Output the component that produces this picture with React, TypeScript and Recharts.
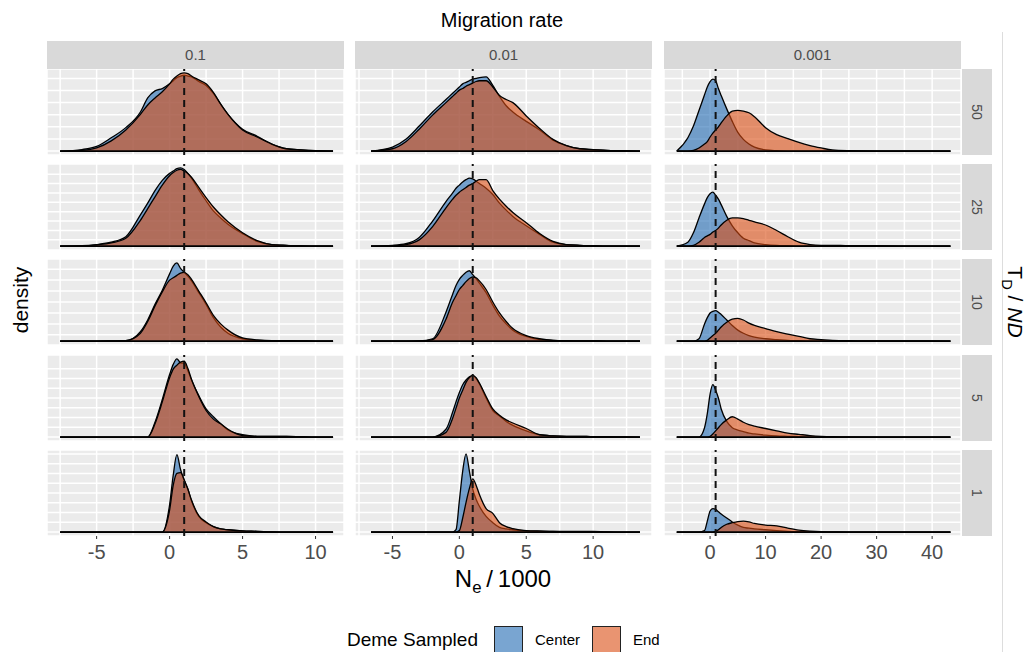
import { AreaChart, Area, XAxis, YAxis, CartesianGrid, ReferenceLine } from 'recharts'

const FONT = '"Liberation Sans", Arial, Helvetica, sans-serif'
const BLUE = '#2069B2'
const ORANGE = '#DA4D12'
const PANEL_W = 297
const PANEL_H = 86
const COL_X = [47, 355, 664]
const ROW_Y = [69, 164, 259, 355, 450]

const migrationRates = ['0.1', '0.01', '0.001']
const tdLabels = ['50', '25', '10', '5', '1']

// Ne/1000 sample points, one grid per migration-rate column
const neA = [-7.5, -6, -5, -4, -3, -2, -1.5, -1, -0.5, 0, 0.25, 0.5, 0.75, 1, 1.25, 1.5, 2, 2.5, 3, 3.5, 4, 5, 6, 7, 8, 9, 10, 11.2]
const neB = [-6.6, -5, -4, -3, -2, -1, -0.5, -0.25, 0, 0.25, 0.5, 0.75, 1, 1.25, 1.5, 2, 2.5, 3, 3.5, 4, 5, 6, 7, 8, 9, 10, 11, 12, 13.5]
const neC = [-6, -4, -3, -2, -1, -0.5, 0, 0.5, 1, 1.5, 2, 3, 4, 5, 6, 7, 8, 10, 12, 14, 16, 18, 20, 22, 25, 30, 35, 43.3]

const xDomains = [[-8.4, 11.95], [-7.8, 14.4], [-8.3, 45.2]]
const xMajor = [[-5, 0, 5, 10], [-5, 0, 5, 10], [0, 10, 20, 30, 40]]
const xMinor = [[-7.5, -2.5, 2.5, 7.5], [-7.5, -2.5, 2.5, 7.5, 12.5], [-5, 5, 15, 25, 35]]

// horizontal grid positions per T_D/ND row (density, scaled to row max)
const yGrid = [
  [0, 0.155, 0.31, 0.465, 0.62, 0.775, 0.93],
  [0.08, 0.2, 0.32, 0.44, 0.56, 0.68, 0.8, 0.92],
  [0.08, 0.22, 0.36, 0.5, 0.64, 0.78, 0.92],
  [0, 0.125, 0.25, 0.375, 0.5, 0.625, 0.75, 0.875],
  [0, 0.125, 0.25, 0.375, 0.5, 0.625, 0.75, 0.875, 1.0],
]

// T_D/ND = 50
const center50a = [0, .02, .06, .17, .30, .50, .68, .77, .80, .86, .90, .94, .96, .97, .96, .95, .89, .84, .74, .60, .47, .28, .19, .09, .03, .015, .005, 0]
const end50a = [0, .01, .04, .13, .27, .47, .59, .68, .76, .86, .92, .96, .99, 1.0, .99, .96, .91, .86, .75, .60, .47, .27, .18, .09, .03, .015, .005, 0]
const center50b = [0, .05, .15, .32, .5, .66, .74, .78, .82, .86, .88, .9, .92, .93, .94, .95, .84, .70, .58, .50, .38, .27, .14, .07, .03, .02, .01, .005, 0]
const end50b = [0, .03, .12, .28, .46, .62, .7, .74, .78, .8, .83, .85, .87, .89, .9, .9, .82, .71, .66, .62, .45, .29, .15, .07, .03, .02, .01, .005, 0]
const center50c = [0, .17, .32, .52, .72, .82, .89, .92, .9, .8, .71, .54, .38, .24, .15, .09, .05, .015, .005, 0, 0, 0, 0, 0, 0, 0, 0, 0]
const end50c = [0, 0, .01, .04, .09, .12, .18, .23, .27, .31, .36, .45, .51, .52, .51, .49, .44, .30, .21, .16, .11, .07, .04, .015, .005, 0, 0, 0]

// T_D/ND = 25
const center25a = [0, .005, .02, .05, .12, .40, .55, .71, .84, .93, .96, .99, 1.0, .98, .93, .87, .72, .58, .45, .36, .28, .16, .06, .02, .01, .005, 0, 0]
const end25a = [0, .003, .015, .04, .10, .33, .48, .63, .78, .90, .94, .97, .98, .96, .93, .88, .75, .62, .50, .40, .31, .17, .07, .02, .01, 0, 0, 0]
const center25b = [0, .01, .03, .11, .32, .57, .68, .74, .78, .82, .85, .87, .86, .83, .8, .74, .66, .55, .46, .38, .26, .15, .05, .02, .01, .005, 0, 0, 0]
const end25b = [0, .005, .02, .08, .25, .49, .6, .65, .69, .72, .75, .78, .8, .83, .85, .85, .71, .6, .51, .43, .3, .16, .06, .02, .01, .005, 0, 0, 0]
const center25c = [0, .05, .17, .36, .54, .62, .67, .69, .65, .6, .53, .38, .26, .17, .1, .07, .04, .02, .01, .005, 0, 0, 0, 0, 0, 0, 0, 0]
const end25c = [0, 0, .01, .05, .11, .13, .15, .18, .2, .23, .27, .33, .36, .36, .35, .33, .31, .27, .2, .12, .05, .02, .01, .01, .005, .005, 0, 0]

// T_D/ND = 10
const center10a = [0, 0, 0, .002, .005, .12, .27, .47, .65, .86, .96, 1.0, .93, .88, .83, .77, .62, .47, .3, .18, .1, .03, .01, .005, .005, .003, 0, 0]
const end10a = [0, 0, 0, .002, .005, .1, .25, .45, .63, .78, .81, .84, .87, .88, .85, .79, .64, .49, .33, .22, .14, .04, .015, .005, .005, .003, 0, 0]
const center10b = [0, 0, 0, .003, .03, .37, .6, .71, .79, .84, .88, .9, .85, .8, .74, .62, .46, .32, .22, .14, .06, .02, .01, .005, .003, .002, 0, 0, 0]
const end10b = [0, 0, 0, .002, .02, .28, .5, .58, .66, .71, .76, .8, .82, .81, .77, .66, .5, .36, .25, .16, .07, .03, .01, .005, .003, .002, 0, 0, 0]
const center10c = [0, 0, 0, .03, .22, .3, .36, .38, .39, .37, .34, .27, .2, .14, .1, .07, .05, .03, .02, .01, .005, 0, 0, 0, 0, 0, 0, 0]
const end10c = [0, 0, 0, 0, 0, .01, .04, .07, .1, .14, .18, .24, .28, .29, .27, .23, .2, .16, .12, .09, .06, .03, .02, .01, .005, .003, .002, 0]

// T_D/ND = 5
const center5a = [0, 0, 0, 0, 0, 0, 0, .19, .48, .8, .93, 1.0, .95, .94, .85, .73, .53, .36, .26, .17, .09, .03, .01, .01, .01, .005, 0, 0]
const end5a = [0, 0, 0, 0, 0, 0, 0, .17, .45, .76, .87, .92, .96, .97, .88, .74, .52, .34, .23, .17, .1, .02, .01, .01, .01, .005, 0, 0]
const center5b = [0, 0, 0, 0, 0, .1, .32, .45, .57, .67, .73, .77, .79, .75, .68, .5, .34, .27, .2, .15, .08, .03, .015, .01, .01, .005, .005, .003, 0]
const end5b = [0, 0, 0, 0, 0, .06, .24, .37, .5, .6, .7, .76, .79, .76, .69, .52, .36, .28, .22, .18, .11, .03, .015, .01, .01, .005, .005, .003, 0]
const center5c = [0, 0, 0, 0, .12, .3, .55, .67, .6, .5, .36, .2, .12, .09, .07, .05, .04, .025, .015, .01, .005, 0, 0, 0, 0, 0, 0, 0]
const end5c = [0, 0, 0, 0, 0, 0, .01, .04, .08, .12, .16, .22, .26, .23, .19, .16, .14, .11, .08, .05, .035, .02, .01, .005, .003, 0, 0, 0]

// T_D/ND = 1
const center1a = [0, 0, 0, 0, 0, 0, 0, 0, 0, .35, .73, .99, .8, .66, .55, .4, .2, .12, .07, .04, .03, .015, .01, .003, 0, 0, 0, 0]
const end1a = [0, 0, 0, 0, 0, 0, 0, 0, 0, .28, .6, .75, .76, .67, .55, .41, .21, .13, .07, .04, .03, .015, .01, .003, 0, 0, 0, 0]
const center1b = [0, 0, 0, 0, 0, 0, 0, .03, .4, .78, 1.0, .78, .55, .42, .33, .2, .12, .06, .04, .03, .015, .01, .008, .006, .005, .006, .002, 0, 0]
const end1b = [0, 0, 0, 0, 0, 0, 0, 0, .02, .18, .38, .56, .68, .6, .48, .3, .24, .12, .07, .045, .02, .015, .01, .01, .008, .01, .003, 0, 0]
const center1c = [0, 0, 0, 0, .02, .14, .27, .3, .29, .26, .23, .18, .13, .09, .06, .05, .04, .03, .02, .01, .005, .002, 0, 0, 0, 0, 0, 0]
const end1c = [0, 0, 0, 0, 0, 0, 0, 0, .01, .03, .06, .1, .12, .135, .14, .13, .11, .09, .08, .05, .025, .012, .005, .003, 0, 0, 0, 0]

const grids = [neA, neB, neC]
const panels = [
  [[center50a, end50a], [center50b, end50b], [center50c, end50c]],
  [[center25a, end25a], [center25b, end25b], [center25c, end25c]],
  [[center10a, end10a], [center10b, end10b], [center10c, end10c]],
  [[center5a, end5a], [center5b, end5b], [center5c, end5c]],
  [[center1a, end1a], [center1b, end1b], [center1c, end1c]],
]

const EmptyTick = () => <g />

function XTick({ x, y, payload, major }: { x: number; y: number; payload: { value: number }; major: number[] }) {
  if (!major.includes(payload.value)) return <g />
  return (
    <g>
      <line x1={x} x2={x} y1={y - 9} y2={y - 6} stroke="#333" strokeWidth={1} />
      <text x={x} y={y} dy="0.71em" textAnchor="middle" fontSize={20} fontFamily={FONT} fill="#4D4D4D">
        {payload.value}
      </text>
    </g>
  )
}

function Panel({ row, col }: { row: number; col: number }) {
  const xs = grids[col]
  const [center, end] = panels[row][col]
  const data = xs.map((x, i) => ({ x, center: center[i], end: end[i] }))
  const bottom = row === 4
  const major = xMajor[col]
  const ticks = [...xMajor[col], ...xMinor[col]].sort((a, b) => a - b)
  return (
    <AreaChart width={PANEL_W} height={bottom ? PANEL_H + 40 : PANEL_H} data={data}
      margin={{ top: 0, right: 0, bottom: 0, left: 0 }}>
      <CartesianGrid fill="#EBEBEB" stroke="#FFFFFF" strokeWidth={1.5} />
      <XAxis type="number" dataKey="x" domain={xDomains[col]} ticks={ticks} interval={0} allowDataOverflow
        height={bottom ? 40 : 0} axisLine={false} tickLine={false} tickSize={3} tickMargin={6}
        tick={bottom ? (p: any) => <XTick {...p} major={major} /> : EmptyTick} />
      <YAxis type="number" domain={[-0.05, 1.05]} ticks={yGrid[row]} interval={0} allowDataOverflow
        width={0} axisLine={false} tickLine={false} tick={EmptyTick} />
      <Area type="monotone" dataKey="center" baseValue={0} stroke="#000" strokeWidth={1.3}
        fill={BLUE} fillOpacity={0.6} dot={false} activeDot={false} isAnimationActive={false} />
      <Area type="monotone" dataKey="end" baseValue={0} stroke="#000" strokeWidth={1.3}
        fill={ORANGE} fillOpacity={0.6} dot={false} activeDot={false} isAnimationActive={false} />
      <ReferenceLine segment={[{ x: xs[0], y: 0 }, { x: xs[xs.length - 1], y: 0 }]} stroke="#000" strokeWidth={1.6} />
      <ReferenceLine x={1} stroke="#111" strokeWidth={2} strokeDasharray="7 5" />
    </AreaChart>
  )
}

export default function App() {
  return (
    <div style={{ position: 'absolute', left: 0, top: 0, width: 1026, height: 652, background: '#fff', fontFamily: FONT, overflow: 'hidden' }}>
      <div style={{ position: 'absolute', left: 352, width: 300, top: 9, lineHeight: '22px', fontSize: 20, textAlign: 'center', color: '#000' }}>
        Migration rate
      </div>

      {migrationRates.map((m, c) => (
        <div key={m} style={{
          position: 'absolute', left: COL_X[c], top: 41, width: PANEL_W, height: 28, background: '#D9D9D9',
          textAlign: 'center', lineHeight: '28px', fontSize: 15, color: '#4D4D4D',
        }}>{m}</div>
      ))}

      {tdLabels.map((t, r) => (
        <div key={t} style={{ position: 'absolute', left: 962, top: ROW_Y[r], width: 30, height: PANEL_H, background: '#D9D9D9' }}>
          <div style={{
            position: 'absolute', left: 15, top: PANEL_H / 2, transform: 'translate(-50%, -50%) rotate(90deg)',
            fontSize: 14, color: '#4D4D4D', whiteSpace: 'nowrap',
          }}>{t}</div>
        </div>
      ))}

      {ROW_Y.map((y, r) => COL_X.map((x, c) => (
        <div key={`${r}-${c}`} style={{ position: 'absolute', left: x, top: y }}>
          <Panel row={r} col={c} />
        </div>
      )))}

      <div style={{ position: 'absolute', left: 1002, top: 32, width: 1, height: 620, background: '#DDDDDD' }} />

      <div style={{
        position: 'absolute', left: 21, top: 300, transform: 'translate(-50%, -50%) rotate(-90deg)',
        fontSize: 21, color: '#000', whiteSpace: 'nowrap',
      }}>density</div>

      <div style={{
        position: 'absolute', left: 1013, top: 302, transform: 'translate(-50%, -50%) rotate(90deg)',
        fontSize: 21, color: '#000', whiteSpace: 'nowrap',
      }}>T<sub style={{ fontSize: '0.7em' }}>D</sub> / <i>ND</i></div>

      <div style={{ position: 'absolute', left: 353, width: 300, top: 564, lineHeight: '30px', fontSize: 24, textAlign: 'center', color: '#000' }}>
        N<sub style={{ fontSize: '0.7em' }}>e</sub>&thinsp;/&thinsp;1000
      </div>

      <div style={{ position: 'absolute', left: 347, top: 629, lineHeight: '22px', fontSize: 19, color: '#000', whiteSpace: 'nowrap' }}>
        Deme Sampled
      </div>
      <div style={{ position: 'absolute', left: 494, top: 626, width: 27, height: 30, border: '1.5px solid #222', background: 'rgba(32,105,178,0.6)' }} />
      <div style={{ position: 'absolute', left: 535, top: 631, lineHeight: '18px', fontSize: 15, color: '#000' }}>Center</div>
      <div style={{ position: 'absolute', left: 592, top: 626, width: 27, height: 30, border: '1.5px solid #222', background: 'rgba(218,77,18,0.6)' }} />
      <div style={{ position: 'absolute', left: 633, top: 631, lineHeight: '18px', fontSize: 15, color: '#000' }}>End</div>
    </div>
  )
}
